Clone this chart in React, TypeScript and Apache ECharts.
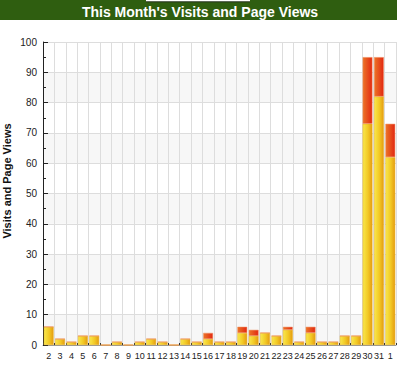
import React, { useEffect, useRef } from "react";
import * as echarts from "echarts";

const days = ["2","3","4","5","6","7","8","9","10","11","12","13","14","15","16","17","18","19","20","21","22","23","24","25","26","27","28","29","30","31","1"];
const visits = [6,2,1,3,3,0,1,0,1,2,1,0,2,1,2,1,1,4,3,4,3,5,1,4,1,1,3,3,73,82,62];
const pageViews = [6,2,1,3,3,0,1,0,1,2,1,0,2,1,4,1,1,6,5,4,3,6,1,6,1,1,3,3,95,95,73];
const yTicks = [0,10,20,30,40,50,60,70,80,90,100];

export default function App() {
  const ref = useRef<HTMLDivElement>(null);
  useEffect(() => {
    const chart = echarts.init(ref.current!, null, { renderer: "svg" });
    const extra = pageViews.map((p, i) => p - visits[i]);
    const yellow = new echarts.graphic.LinearGradient(0, 0, 1, 0, [
      { offset: 0, color: "#f8e84c" },
      { offset: 0.55, color: "#f2c824" },
      { offset: 1, color: "#e49c12" },
    ]);
    const red = new echarts.graphic.LinearGradient(0, 0, 1, 0, [
      { offset: 0, color: "#ec7428" },
      { offset: 1, color: "#e22812" },
    ]);
    chart.setOption({
      animation: false,
      backgroundColor: "#ffffff",
      title: {
        text: "This Month's Visits and Page Views",
        left: "center",
        top: 0,
        textStyle: { color: "#ffffff", fontSize: 14, fontWeight: "bold", fontFamily: "Liberation Sans" },
      },
      graphic: [
        { type: "rect", z: -1, shape: { x: 0, y: 0, width: 397, height: 20 }, style: { fill: "#2f5e10" } },
        { type: "rect", z: 0, shape: { x: 146, y: 0, width: 104, height: 1.5 }, style: { fill: "#ffffff" } },
        { type: "rect", z: 0, shape: { x: 146, y: 1.5, width: 104, height: 0.8 }, style: { fill: "#222222" } },
        {
          type: "text",
          x: 7,
          y: 181,
          rotation: Math.PI / 2,
          style: {
            text: "Visits and Page Views",
            fill: "#111111",
            font: "bold 11px 'Liberation Sans'",
            textAlign: "center",
            textVerticalAlign: "middle",
          },
        },
      ],
      grid: { left: 43, right: 4, top: 42, bottom: 22 },
      xAxis: {
        type: "category",
        data: days,
        boundaryGap: true,
        axisLine: { lineStyle: { color: "#999999" } },
        axisTick: { show: true, inside: true, length: 2, lineStyle: { color: "#333333" } },
        axisLabel: { interval: 0, fontSize: 9, color: "#222222", margin: 6, fontFamily: "Liberation Sans" },
        splitLine: { show: true, interval: 0, lineStyle: { color: "#dddddd" } },
      },
      yAxis: {
        type: "value",
        min: yTicks[0],
        max: yTicks[yTicks.length - 1],
        interval: 10,
        axisLine: { show: true, lineStyle: { color: "#222222" } },
        axisTick: { show: true, inside: true, length: 5, lineStyle: { color: "#222222" } },
        minorTick: { show: true, splitNumber: 2, length: 3, lineStyle: { color: "#222222" } },
        axisLabel: { fontSize: 10, color: "#222222", margin: 6, fontFamily: "Liberation Sans" },
        splitLine: { show: true, lineStyle: { color: "#dddddd" } },
        splitArea: { show: true, areaStyle: { color: ["#f7f7f7", "#ffffff"] } },
      },
      series: [
        {
          name: "Visits",
          type: "bar",
          stack: "a",
          data: visits,
          barCategoryGap: "14%",
          itemStyle: { color: yellow, borderColor: "#e8b020", borderWidth: 0.5 },
        },
        {
          name: "Page Views",
          type: "bar",
          stack: "a",
          data: extra,
          itemStyle: { color: red, borderColor: "#f09060", borderWidth: 0.5 },
        },
      ],
    });
    return () => chart.dispose();
  }, []);
  return (
    <div
      ref={ref}
      style={{ position: "fixed", left: 0, top: 0, width: 400, height: 367 }}
    />
  );
}
